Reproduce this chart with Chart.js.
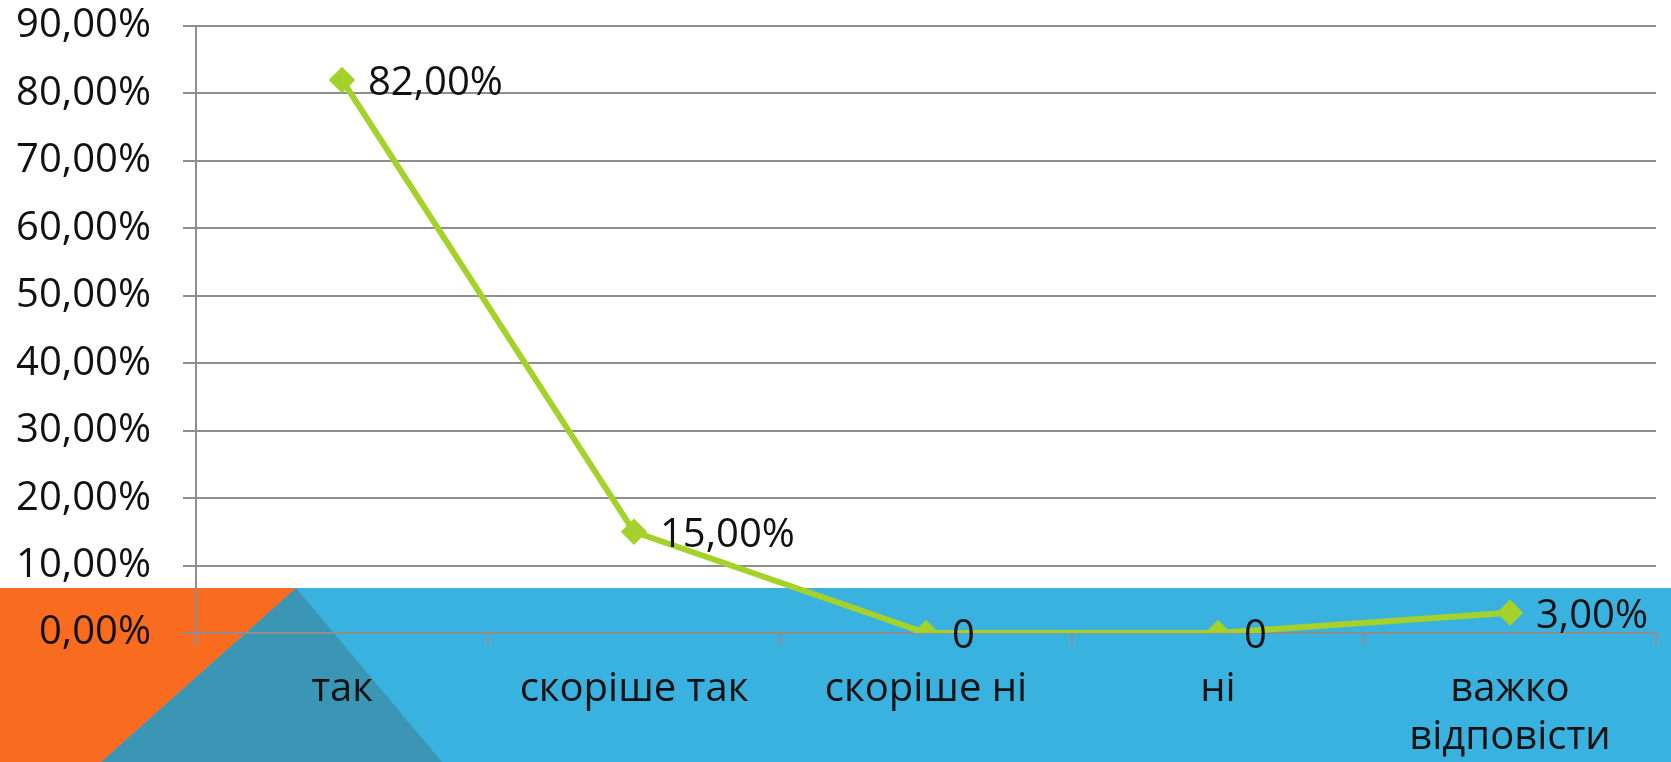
<!DOCTYPE html>
<html>
<head>
<meta charset="utf-8">
<script src="https://cdn.jsdelivr.net/npm/chart.js@4/dist/chart.umd.min.js"></script>
<style>
  html, body { margin: 0; padding: 0; background: #fff; }
  #wrap { width: 1671px; height: 762px; position: relative; }
</style>
</head>
<body>
<div id="wrap"><canvas id="lineChart"></canvas></div>
<script>
// Données du graphique
const categories = ['так', 'скоріше так', 'скоріше ні', 'ні', ['важко', 'відповісти']];
const values = [0.82, 0.15, 0, 0, 0.03];
const pointLabels = ['82,00%', '15,00%', '0', '0', '3,00%'];
const yTicks = [0, 0.1, 0.2, 0.3, 0.4, 0.5, 0.6, 0.7, 0.8, 0.9];

const FONT = '"Open Sans", "Noto Sans", sans-serif';
const FONT_SIZE = 40;
const GRID = '#8e8e8e';

function formatPct(v) {
    return (v * 100).toFixed(2).replace('.', ',') + '%';
}

// Fond décoratif (bande bleue + coin orange)
const backdrop = {
    id: 'backdrop',
    beforeDraw(chart) {
        const c = chart.ctx;
        const w = chart.width, h = chart.height;
        const top = 588;
        c.save();
        c.fillStyle = '#ffffff';
        c.fillRect(0, 0, w, h);
        c.fillStyle = '#3ab2e0';
        c.fillRect(0, top, w, h - top);
        c.fillStyle = '#3a96b4';
        c.beginPath();
        c.moveTo(296, top);
        c.lineTo(442, h);
        c.lineTo(101, h);
        c.closePath();
        c.fill();
        c.fillStyle = '#f96b1e';
        c.beginPath();
        c.moveTo(0, top);
        c.lineTo(296, top);
        c.lineTo(101, h);
        c.lineTo(0, h);
        c.closePath();
        c.fill();
        c.restore();
    }
};

// Étiquettes de valeurs à droite des points
const valueLabels = {
    id: 'valueLabels',
    afterDatasetsDraw(chart) {
        const c = chart.ctx;
        const meta = chart.getDatasetMeta(0);
        c.save();
        c.font = FONT_SIZE + 'px ' + FONT;
        c.fillStyle = '#111';
        c.textBaseline = 'middle';
        c.textAlign = 'left';
        meta.data.forEach((pt, i) => {
            c.fillText(pointLabels[i], pt.x + 26, pt.y + 4);
        });
        c.restore();
    }
};

const chart = new Chart(document.getElementById('lineChart'), {
    type: 'line',
    data: {
        labels: categories,
        datasets: [{
            data: values,
            borderColor: '#a4d22a',
            backgroundColor: '#a4d22a',
            borderWidth: 6,
            pointStyle: 'rectRot',
            pointRadius: 9,
            pointHoverRadius: 9,
            tension: 0,
            fill: false
        }]
    },
    options: {
        responsive: true,
        maintainAspectRatio: false,
        animation: false,
        layout: { padding: { top: 26, right: 2, left: 0, bottom: 0 } },
        plugins: {
            legend: { display: false },
            tooltip: { enabled: false }
        },
        scales: {
            x: {
                offset: true,
                grid: {
                    offset: true,
                    drawOnChartArea: false,
                    drawTicks: true,
                    tickLength: 13,
                    color: GRID,
                    lineWidth: 2
                },
                border: { display: false },
                ticks: {
                    color: '#111',
                    font: { family: FONT, size: FONT_SIZE, lineHeight: 1.2 },
                    padding: 20,
                    maxRotation: 0,
                    autoSkip: false
                },
                afterFit(scale) {
                    scale.height = 129;
                    scale.paddingLeft = 0;
                    scale.paddingRight = 0;
                }
            },
            y: {
                min: 0,
                max: 0.9,
                afterBuildTicks(scale) {
                    scale.ticks = yTicks.map(v => ({ value: v }));
                },
                grid: {
                    color: GRID,
                    lineWidth: 2,
                    tickLength: 13
                },
                border: { color: GRID, width: 2 },
                ticks: {
                    color: '#111',
                    font: { family: FONT, size: FONT_SIZE },
                    padding: 32,
                    callback: v => formatPct(v)
                },
                afterFit(scale) {
                    scale.width = 196;
                    scale.paddingTop = 0;
                    scale.paddingBottom = 0;
                }
            }
        }
    },
    plugins: [backdrop, valueLabels]
});
</script>
</body>
</html>
